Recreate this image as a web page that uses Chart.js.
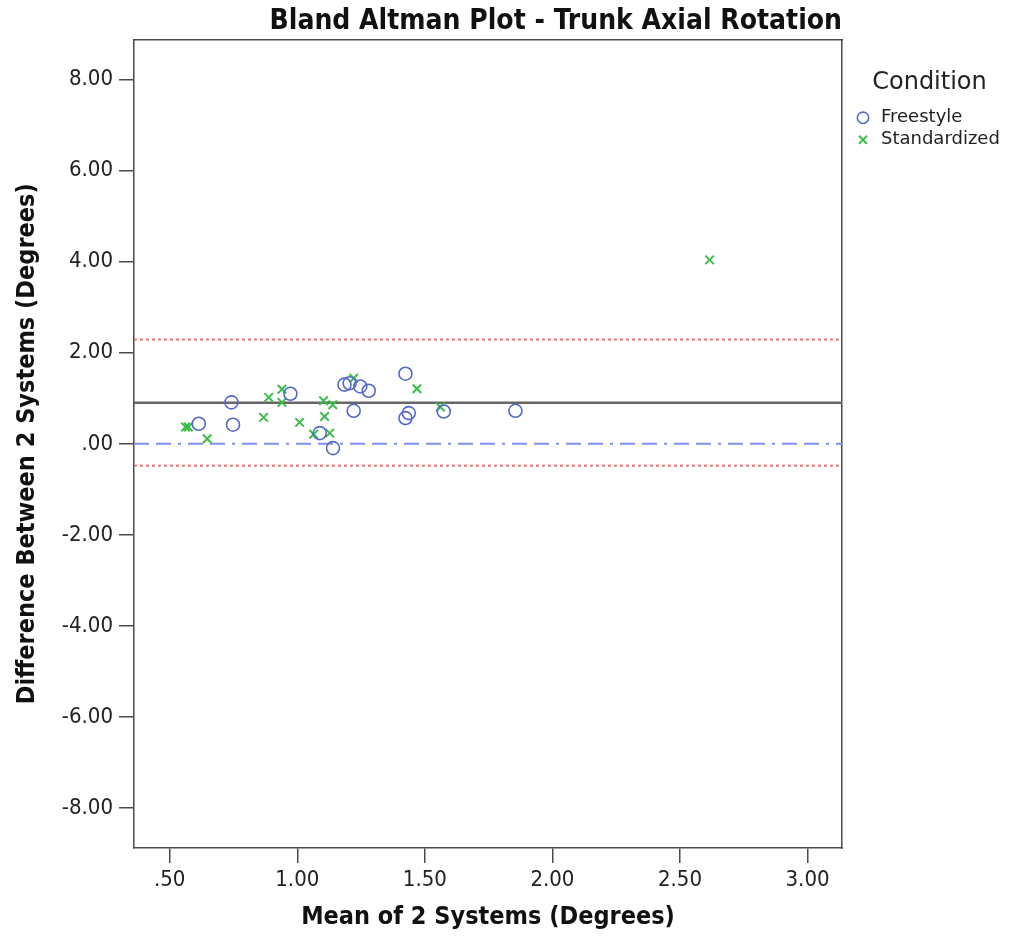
<!DOCTYPE html>
<html>
<head>
<meta charset="utf-8">
<title>Bland Altman Plot - Trunk Axial Rotation</title>
<script src="https://cdn.jsdelivr.net/npm/chart.js@4.4.0/dist/chart.umd.min.js"></script>
<style>
    html, body { margin: 0; padding: 0; background: #ffffff; }
    #wrap { position: relative; width: 1009px; height: 936px; }
</style>
</head>
<body>
<div id="wrap"><canvas id="baChart"></canvas></div>
<script>
// 数据：两系统平均值 (x) 与差值 (y)
const freestyleMean = [0.614, 0.742, 0.748, 0.973, 1.088, 1.140, 1.185, 1.205, 1.221, 1.247, 1.280, 1.424, 1.437, 1.424, 1.574, 1.855];
const freestyleDiff = [0.44, 0.91, 0.42, 1.10, 0.235, -0.095, 1.30, 1.33, 0.725, 1.26, 1.165, 1.54, 0.675, 0.565, 0.71, 0.725];

const standardizedMean = [0.562, 0.573, 0.647, 0.868, 0.888, 0.940, 0.940, 1.009, 1.064, 1.103, 1.107, 1.127, 1.139, 1.221, 1.469, 1.561, 2.616];
const standardizedDiff = [0.37, 0.37, 0.11, 0.58, 1.02, 1.20, 0.91, 0.47, 0.21, 0.945, 0.60, 0.235, 0.857, 1.44, 1.21, 0.81, 4.04];

// 参考线
const meanDiff = 0.90;
const upperLimit = 2.29;
const lowerLimit = -0.48;
const zeroLine = 0;

// 坐标轴
const xTickValues = [0.5, 1.0, 1.5, 2.0, 2.5, 3.0];
const yTickValues = [-8, -6, -4, -2, 0, 2, 4, 6, 8];
const xRange = [0.36, 3.135];
const yRange = [-8.88, 8.88];

const seriesNames = ['Freestyle', 'Standardized'];

function toPoints(xs, ys) {
    return xs.map(function(x, i) { return { x: x, y: ys[i] }; });
}

function hLine(y) {
    return [{ x: xRange[0], y: y }, { x: xRange[1], y: y }];
}

// SPSS 风格的刻度文字：.50 / -2.00
function fmtTick(v) {
    let s = Math.abs(v).toFixed(2);
    if (s.charAt(0) === '0') s = s.slice(1);
    return (v < 0 ? '-' : '') + s;
}

const axisColor = '#4a4a4a';
const tickFont = { family: 'DejaVu Sans Condensed', size: 22 };
const axisTitleFont = { family: 'DejaVu Sans Condensed', size: 25, weight: 'bold' };

document.addEventListener('DOMContentLoaded', function() {
    const ctx = document.getElementById('baChart').getContext('2d');

    new Chart(ctx, {
        type: 'scatter',
        data: {
            datasets: [{
                label: seriesNames[0],
                data: toPoints(freestyleMean, freestyleDiff),
                pointStyle: 'circle',
                pointRadius: 6.5,
                pointHoverRadius: 6.5,
                borderColor: '#5468cc',
                backgroundColor: 'rgba(0,0,0,0)',
                pointBorderWidth: 1.6,
                order: 1
            }, {
                label: seriesNames[1],
                data: toPoints(standardizedMean, standardizedDiff),
                pointStyle: 'crossRot',
                pointRadius: 6,
                pointHoverRadius: 6,
                borderColor: '#3cbd4a',
                backgroundColor: '#3cbd4a',
                pointBorderWidth: 2,
                order: 1
            }, {
                label: 'mean',
                data: hLine(meanDiff),
                showLine: true,
                pointRadius: 0,
                borderColor: '#666666',
                borderWidth: 2.5,
                order: 2
            }, {
                label: 'upper',
                data: hLine(upperLimit),
                showLine: true,
                pointRadius: 0,
                borderColor: '#f07070',
                borderWidth: 2,
                borderDash: [3, 3],
                order: 2
            }, {
                label: 'lower',
                data: hLine(lowerLimit),
                showLine: true,
                pointRadius: 0,
                borderColor: '#f07070',
                borderWidth: 2,
                borderDash: [3, 3],
                order: 2
            }, {
                label: 'zero',
                data: hLine(zeroLine),
                showLine: true,
                pointRadius: 0,
                borderColor: '#7d8ff2',
                borderWidth: 2,
                borderDash: [15, 7, 15, 7, 3, 7],
                order: 2
            }]
        },
        options: {
            responsive: true,
            maintainAspectRatio: false,
            animation: false,
            layout: { padding: { left: 8, right: 0, top: 0, bottom: 0 } },
            scales: {
                x: {
                    type: 'linear',
                    position: 'bottom',
                    min: xRange[0],
                    max: xRange[1],
                    afterBuildTicks: function(scale) {
                        scale.ticks = xTickValues.map(function(v) { return { value: v }; });
                    },
                    afterFit: function(scale) { scale.height = 88; },
                    grid: { display: true, drawOnChartArea: false, tickLength: 15, color: axisColor, lineWidth: 1.5 },
                    border: { display: true, color: axisColor, width: 1.5 },
                    ticks: { color: '#222', font: tickFont, padding: 4, maxRotation: 0, callback: fmtTick },
                    title: { display: true, text: 'Mean of 2 Systems (Degrees)', color: '#111', font: axisTitleFont, padding: { top: 4, bottom: 4 } }
                },
                y: {
                    type: 'linear',
                    position: 'left',
                    min: yRange[0],
                    max: yRange[1],
                    afterBuildTicks: function(scale) {
                        scale.ticks = yTickValues.map(function(v) { return { value: v }; });
                    },
                    afterFit: function(scale) { scale.width = 126; },
                    grid: { display: true, drawOnChartArea: false, tickLength: 15, color: axisColor, lineWidth: 1.5 },
                    border: { display: true, color: axisColor, width: 1.5 },
                    ticks: { color: '#222', font: tickFont, padding: 6, callback: fmtTick },
                    title: { display: true, text: 'Difference Between 2 Systems (Degrees)', color: '#111', font: axisTitleFont, padding: { top: 4, bottom: 4 } }
                },
                // 上、右两侧的边框
                x2: {
                    type: 'linear',
                    position: 'top',
                    display: true,
                    afterFit: function(scale) { scale.height = 0; },
                    grid: { display: false },
                    ticks: { display: false },
                    border: { display: true, color: axisColor, width: 1.5 }
                },
                y2: {
                    type: 'linear',
                    position: 'right',
                    display: true,
                    afterFit: function(scale) { scale.width = 8; },
                    grid: { display: false },
                    ticks: { display: false },
                    border: { display: true, color: axisColor, width: 1.5 }
                }
            },
            plugins: {
                title: {
                    display: true,
                    text: 'Bland Altman Plot - Trunk Axial Rotation',
                    align: 'end',
                    fullSize: false,
                    color: '#111',
                    font: { family: 'DejaVu Sans Condensed', size: 28, weight: 'bold' },
                    padding: { top: 5, bottom: 1 }
                },
                legend: {
                    display: true,
                    position: 'right',
                    align: 'start',
                    maxWidth: 159,
                    title: {
                        display: true,
                        text: 'Condition',
                        color: '#222',
                        font: { family: 'DejaVu Sans', size: 24 },
                        padding: { top: 71, bottom: 5 }
                    },
                    labels: {
                        usePointStyle: true,
                        boxHeight: 8,
                        padding: 4,
                        color: '#222',
                        font: { family: 'DejaVu Sans', size: 18, lineHeight: 1.05 },
                        filter: function(item) { return seriesNames.indexOf(item.text) !== -1; }
                    }
                },
                tooltip: { enabled: false }
            }
        }
    });
});
</script>
</body>
</html>
